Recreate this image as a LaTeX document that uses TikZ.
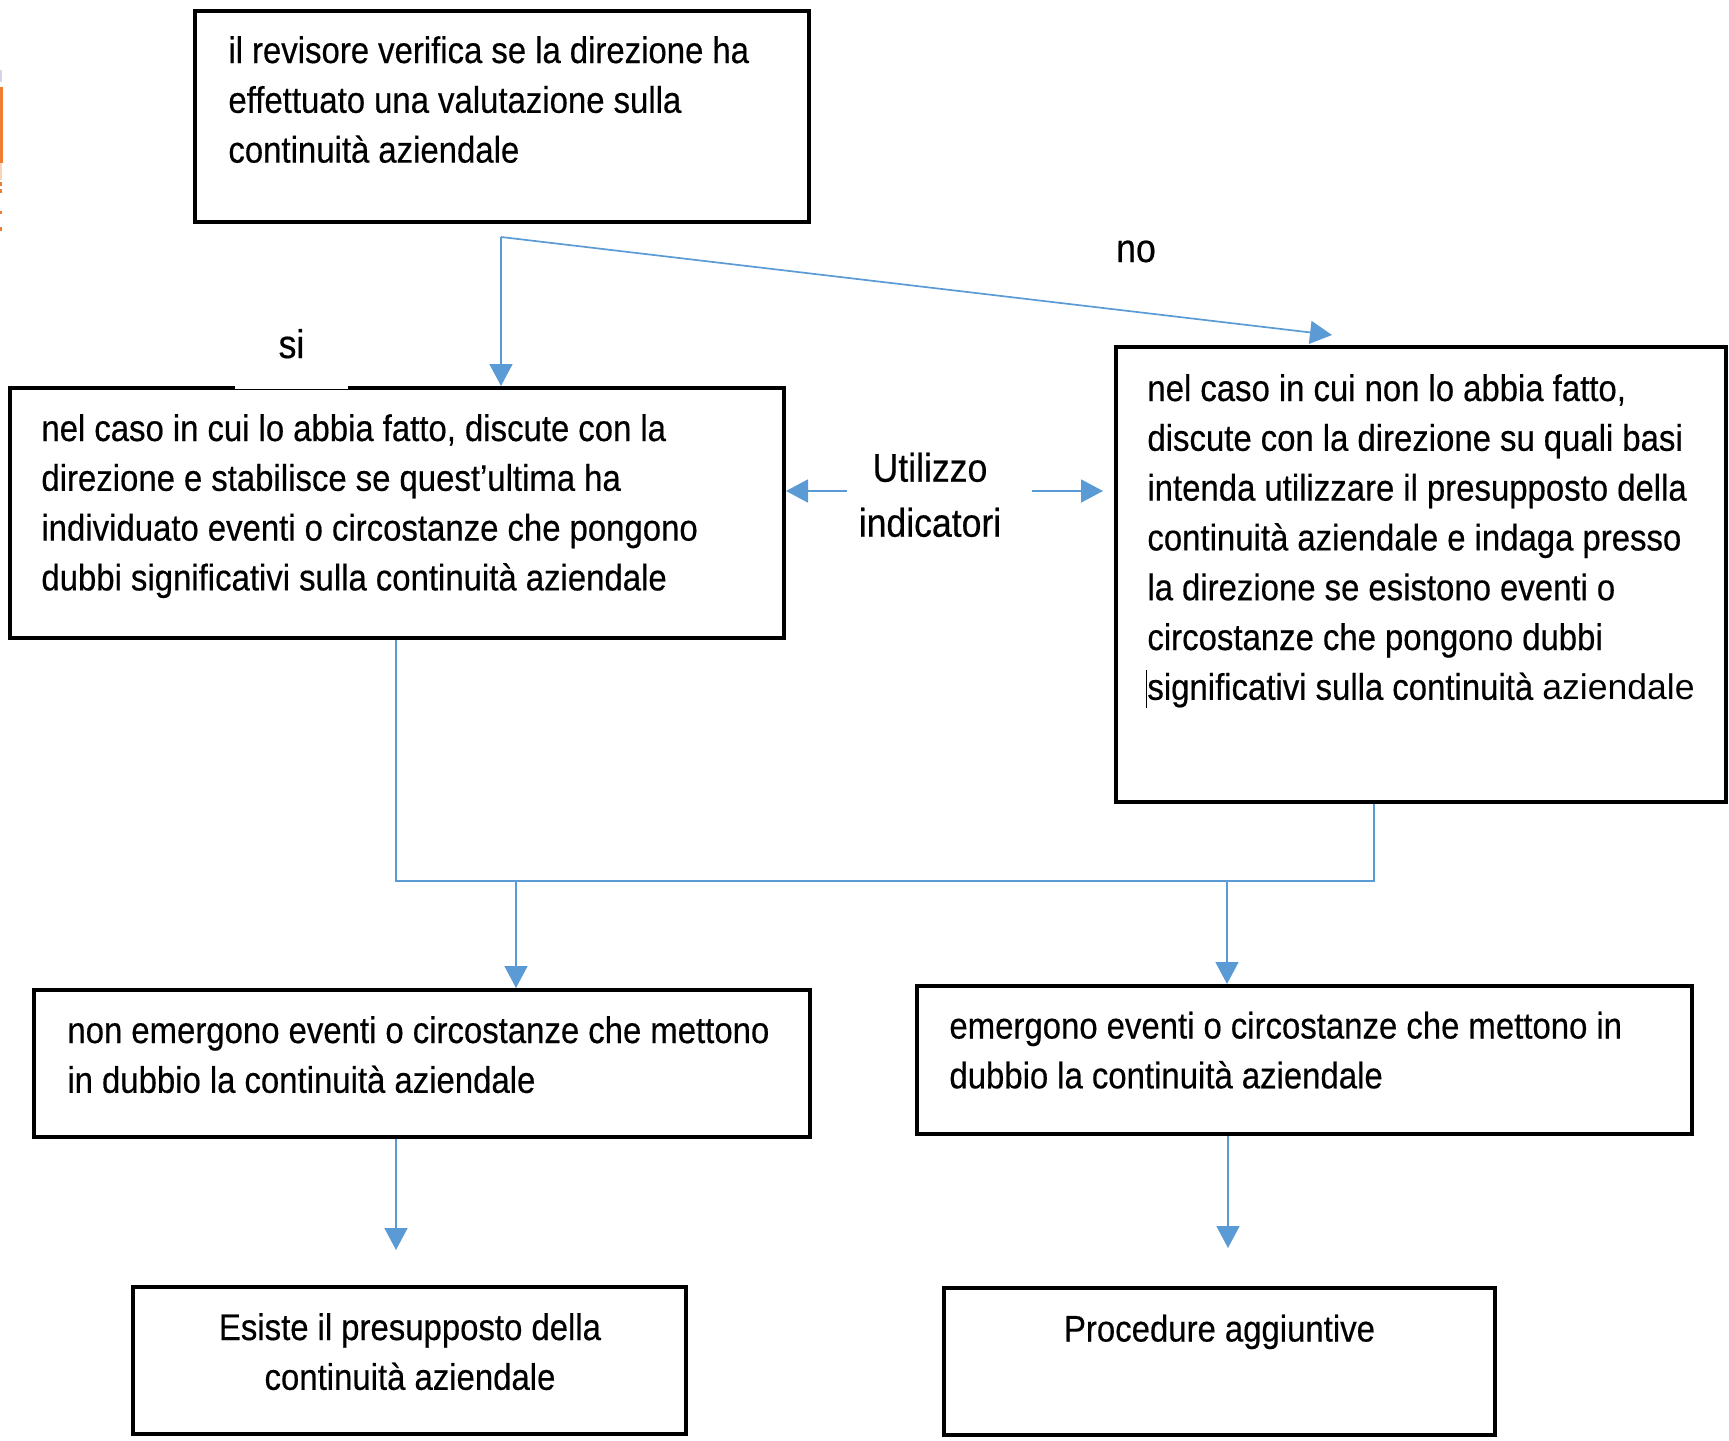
\documentclass[tikz,border=0pt]{standalone}
\usepackage{fontspec}
\setmainfont{Liberation Sans}[FakeStretch=0.89, FakeBold=0.4]
\newfontfamily\widefont{Liberation Sans}
\usetikzlibrary{arrows.meta}
\definecolor{connblue}{HTML}{5B9BD5}
\definecolor{edgeorange}{HTML}{ED7D31}
\definecolor{edgelilac}{HTML}{D9D2E9}
% body and label sizes
\newcommand{\boxfont}{\fontsize{18.5pt}{24.9pt}\selectfont}
\newcommand{\labelfont}{\fontsize{20pt}{27.5pt}\selectfont}
% fixed word spacing for the box texts
\newcommand{\tight}{\spaceskip=4.5pt\relax}

\begin{document}
\begin{tikzpicture}[x=0.5pt, y=-0.5pt,
  box/.style={draw=black, line width=2pt, rectangle, inner sep=0pt},
  txt/.style={inner sep=0pt, anchor=base west, align=left, text width=420pt,
    font=\boxfont},
  ctxt/.style={inner sep=0pt, anchor=base, align=center, text width=300pt,
    font=\boxfont},
  lbl/.style={inner sep=0pt, anchor=base, align=center, text width=100pt,
    font=\labelfont},
  conn/.style={draw=connblue, line width=0.85pt},
  arrowed/.style={-{Triangle[length=11pt,width=11.5pt]}},
]
\useasboundingbox (0,0) rectangle (1729,1440);

% marks along the left edge
\fill[edgelilac] (0,70) rectangle (2,82);
\fill[edgeorange] (0,87) rectangle (2.5,163);
\fill[edgeorange!35] (0,163) rectangle (1.5,180);
\fill[edgeorange] (0,182) rectangle (2,186);
\fill[edgeorange] (0,189) rectangle (2,193);
\fill[edgeorange] (0,211) rectangle (2,214);
\fill[edgeorange] (0,227) rectangle (2,231);

% boxes
\node[box, minimum width=307pt, minimum height=105.5pt] (top) at (502,116.5) {};
\node[box, minimum width=387pt, minimum height=125pt] (lb) at (397,513) {};
\node[box, minimum width=305pt, minimum height=227.5pt] (rb) at (1421,574.5) {};
\node[box, minimum width=388pt, minimum height=73.5pt] (blm) at (422,1063.5) {};
\node[box, minimum width=387.5pt, minimum height=74pt] (brm) at (1304.5,1060) {};
\node[box, minimum width=276.5pt, minimum height=73.5pt] (bl) at (409.5,1360.5) {};
\node[box, minimum width=275.5pt, minimum height=73.5pt] (br) at (1219.5,1361.5) {};

% box texts
\node[txt] (topt) at (228,63) {\tight il revisore verifica se la direzione ha\\
  effettuato una valutazione sulla\\
  continuità aziendale};
\node[txt] (lbt) at (41,441) {\tight nel caso in cui lo abbia fatto, discute con la\\
  direzione e stabilisce se quest’ultima ha\\
  individuato eventi o circostanze che pongono\\
  dubbi significativi sulla continuità aziendale};
\node[txt] (rbt) at (1147,401) {\tight nel caso in cui non lo abbia fatto,\\
  discute con la direzione su quali basi\\
  intenda utilizzare il presupposto della\\
  continuità aziendale e indaga presso\\
  la direzione se esistono eventi o\\
  circostanze che pongono dubbi\\
  \leavevmode\llap{\rule[-4pt]{0.6pt}{19pt}}significativi sulla continuità {\widefont\fontsize{17.8pt}{24.9pt}\selectfont aziendale}};
\node[txt] (blmt) at (67,1043) {\tight non emergono eventi o circostanze che mettono\\
  in dubbio la continuità aziendale};
\node[txt] (brmt) at (949,1038.5) {\tight emergono eventi o circostanze che mettono in\\
  dubbio la continuità aziendale};
\node[ctxt] (blt) at (410,1340) {\tight Esiste il presupposto della\\continuità aziendale};
\node[ctxt] (brt) at (1219.5,1341.5) {\tight Procedure aggiuntive};

% labels
\node[lbl, fill=white, text width=56.5pt, text height=12.5pt, text depth=15.5pt]
  (si) at (291.5,358) {si};
\node[lbl] (no) at (1136,262) {no};
\node[lbl] (util) at (930,481.7) {Utilizzo\\indicatori};

% connector points
\coordinate (split) at (501,237);
\coordinate (noTip) at (1332,335);
\coordinate (uL) at (847,491);
\coordinate (uR) at (1032,491);
\coordinate (uRtip) at (1103,491);
\coordinate (jl) at (396,881);
\coordinate (jr) at (1374,881);
\coordinate (d1) at (516,881);
\coordinate (d2) at (1227,881);
\coordinate (e1) at (396,1250);
\coordinate (e2) at (1228,1248);

% connectors
\draw[conn, arrowed] (split) -- (split |- lb.north);
\draw[conn, arrowed] (split) -- (noTip);
\draw[conn, arrowed] (uL) -- (uL -| lb.east);
\draw[conn, arrowed] (uR) -- (uRtip);
\draw[conn] (lb.south -| jl) -- (jl) -- (jr) -- (rb.south -| jr);
\draw[conn, arrowed] (d1) -- (d1 |- blm.north);
\draw[conn, arrowed] (d2) -- (d2 |- brm.north);
\draw[conn, arrowed] (blm.south -| e1) -- (e1);
\draw[conn, arrowed] (brm.south -| e2) -- (e2);
\end{tikzpicture}
\end{document}
